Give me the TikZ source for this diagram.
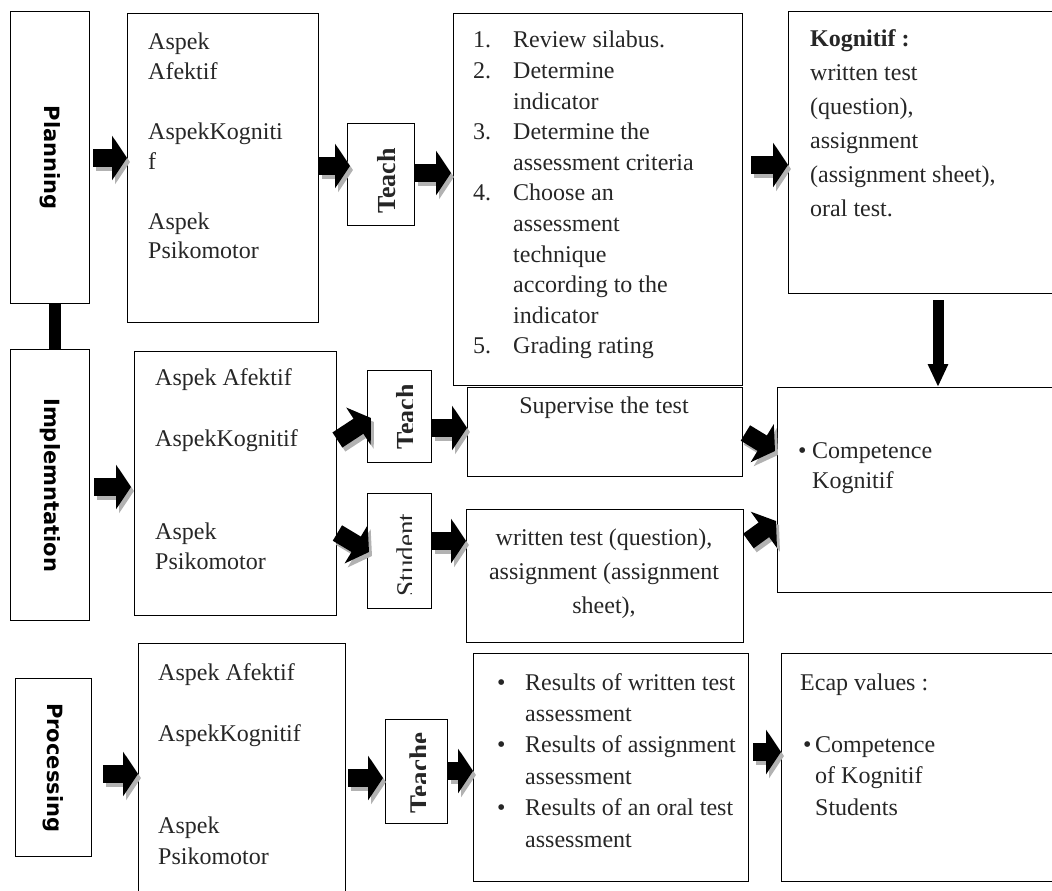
\documentclass[tikz,border=0pt]{standalone}
\usepackage{fontspec}
\setmainfont{Liberation Serif}
\newfontfamily\sidefont{DejaVu Sans}
\usetikzlibrary{arrows.meta,calc}
\tikzset{
  box/.style={draw,line width=1.4pt,inner sep=0pt,anchor=north west},
  txt/.style={inner sep=0pt,anchor=base west,text=black!85,font=\fontsize{24}{30}\selectfont},
  sidelbl/.style={inner sep=0pt,rotate=-90,font=\sidefont\bfseries\fontsize{21}{21}\selectfont},
  tlbl/.style={inner sep=0pt,anchor=base,rotate=90,text=black!85,font=\fontsize{26}{26}\selectfont\bfseries},
  fat/.style={draw=black,line width=18pt,-{Triangle[length=15pt,width=44pt]}},
  fatshadow/.style={fat,draw=black!30,transform canvas={shift={(3pt,-4pt)}}},
}
\newcommand{\fatarrow}[3][]{\draw[fatshadow,#1] #2 -- #3; \draw[fat,#1] #2 -- #3;}

\begin{document}
\begin{tikzpicture}[x=1pt,y=-1pt]
\useasboundingbox (0,0) rectangle (1052,891);
% --- planning row
\node[box,minimum width=79,minimum height=292] (plan) at (10,11) {};
\node[sidelbl] (planlbl) at (plan.center) {Planning};
\node[box,minimum width=191,minimum height=309] (asp1) at (127,13) {};
\node[txt] (asp1txt) at (148,49) {\begin{tabular}[t]{@{}l@{}}Aspek\\Afektif\\ \\AspekKogniti\\f\\ \\Aspek\\Psikomotor\end{tabular}};
\node[box,minimum width=67,minimum height=102] (tch1) at (347,123) {};
\node[tlbl] (tch1lbl) at (395,181) {Teach};
\node[box,minimum width=289,minimum height=372] (lst) at (453,13) {};
\node[txt,font=\fontsize{24}{30.6}\selectfont] (lsttxt) at (473,48) {\begin{tabular}[t]{@{}p{40pt}@{}l@{}}1.&Review silabus.\\2.&Determine\\&indicator\\3.&Determine the\\&assessment criteria\\4.&Choose an\\&assessment\\&technique\\&according to the\\&indicator\\5.&Grading rating\end{tabular}};
\node[box,minimum width=272,minimum height=282] (kog) at (788,11) {};
\node[txt,font=\fontsize{24}{34}\selectfont] (kogtxt) at (810,47) {\begin{tabular}[t]{@{}l@{}}\textbf{Kognitif :}\\written test\\(question),\\assignment\\(assignment sheet),\\oral test.\end{tabular}};
\draw[line width=12pt] ([xshift=4.5pt]plan.south) -- ([xshift=4.5pt]plan.south |- 0,349);
% --- implementation row
\node[box,minimum width=79,minimum height=271] (impl) at (10,349) {};
\node[sidelbl] (impllbl) at (impl.center) {Implemntation};
\node[box,minimum width=202,minimum height=264] (asp2) at (134,351) {};
\node[txt,font=\fontsize{24}{30.8}\selectfont] (asp2txt) at (155,385) {\begin{tabular}[t]{@{}l@{}}Aspek Afektif\\ \\AspekKognitif\\ \\ \\Aspek\\Psikomotor\end{tabular}};
\node[box,minimum width=64,minimum height=92] (tch2) at (367,370) {};
\begin{scope}
\clip (367,370) rectangle (412,462);
\node[tlbl] (tch2lbl) at (414,417) {Teach};
\end{scope}
\node[box,minimum width=64,minimum height=115] (std) at (367,493) {};
\begin{scope}
\clip (367,493) rectangle (411,608);
\node[tlbl,font=\fontsize{27}{27}\selectfont] (stdlbl) at (415,555) {Student};
\end{scope}
\node[box,minimum width=275,minimum height=89] (sup) at (467,387) {};
\node[txt,anchor=base] (suptxt) at (604,413) {Supervise the test};
\node[box,minimum width=277,minimum height=133] (wrt) at (466,509) {};
\node[txt,anchor=base,font=\fontsize{24}{34}\selectfont] (wrttxt) at (604,545) {\begin{tabular}[t]{@{}c@{}}written test (question),\\assignment (assignment\\sheet),\end{tabular}};
\node[box,minimum width=283,minimum height=205] (comp) at (777,387) {};
\node[txt] (comptxt) at (798,458) {\begin{tabular}[t]{@{}l@{}}\makebox[14pt][l]{•}Competence\\\hspace*{14pt}Kognitif\end{tabular}};
% --- processing row
\node[box,minimum width=76,minimum height=178] (proc) at (15,678) {};
\node[sidelbl] (proclbl) at (proc.center) {Processing};
\node[box,minimum width=207,minimum height=260] (asp3) at (138,643) {};
\node[txt,font=\fontsize{24}{30.7}\selectfont] (asp3txt) at (158,680) {\begin{tabular}[t]{@{}l@{}}Aspek Afektif\\ \\AspekKognitif\\ \\ \\Aspek\\Psikomotor\end{tabular}};
\node[box,minimum width=62,minimum height=104] (tch3) at (385,719) {};
\begin{scope}
\clip (385,719) rectangle (425,823);
\node[tlbl,font=\fontsize{27}{27}\selectfont\bfseries] (tch3lbl) at (428,773) {Teache};
\end{scope}
\node[box,minimum width=275,minimum height=228] (res) at (473,653) {};
\node[txt,font=\fontsize{24}{31.4}\selectfont] (restxt) at (497,690) {\begin{tabular}[t]{@{}l@{}}\makebox[28pt][l]{•}Results of written test\\\hspace*{28pt}assessment\\\makebox[28pt][l]{•}Results of assignment\\\hspace*{28pt}assessment\\\makebox[28pt][l]{•}Results of an oral test\\\hspace*{28pt}assessment\end{tabular}};
\node[box,minimum width=279,minimum height=228] (ecap) at (781,653) {};
\node[txt] (ecaptxt) at (800,690) {Ecap values :};
\node[txt,font=\fontsize{24}{31.5}\selectfont] (ecaplist) at (803,752) {\begin{tabular}[t]{@{}l@{}}\makebox[12pt][l]{•}Competence\\\hspace*{12pt}of Kognitif\\\hspace*{12pt}Students\end{tabular}};
% --- block arrows
\fatarrow{($(plan.east |- 0,158)+(3,0)$)}{(asp1.west |- 0,158)}
\fatarrow{(asp1.east |- 0,166)}{($(tch1.west |- 0,166)+(3,0)$)}
\fatarrow{(tch1.east |- 0,173)}{($(lst.west |- 0,173)+(-2,0)$)}
\fatarrow{($(lst.east |- 0,165)+(8,0)$)}{(kog.west |- 0,165)}
\draw[fat,line width=11pt,-{Triangle[length=23pt,width=19pt]}] ($(938,0 |- kog.south)+(0,6)$) -- (938,0 |- comp.north);
\fatarrow{($(impl.east |- 0,487)+(4,0)$)}{($(asp2.west |- 0,487)+(-3,0)$)}
\fatarrow{(asp2.east |- 0,440)}{($(tch2.west |- 0,418)+(4,0)$)}
\fatarrow{(asp2.east |- 0,533)}{($(std.west |- 0,552)+(2,0)$)}
\fatarrow{(tch2.east |- 0,428)}{(sup.west |- 0,428)}
\fatarrow{(std.east |- 0,541)}{(wrt.west |- 0,541)}
\fatarrow{($(sup.east |- 0,433)+(2,0)$)}{($(comp.west |- 0,451)+(-2,0)$)}
\fatarrow{($(wrt.east |- 0,541)+(4,0)$)}{($(comp.west |- 0,521)+(-1,0)$)}
\fatarrow{($(proc.east |- 0,774)+(11,0)$)}{(asp3.west |- 0,774)}
\fatarrow{($(asp3.east |- 0,778)+(2,0)$)}{($(tch3.west |- 0,778)+(-2,0)$)}
\fatarrow{(tch3.east |- 0,771)}{(res.west |- 0,771)}
\fatarrow{($(res.east |- 0,752)+(4,0)$)}{(ecap.west |- 0,752)}
\end{tikzpicture}
\end{document}
